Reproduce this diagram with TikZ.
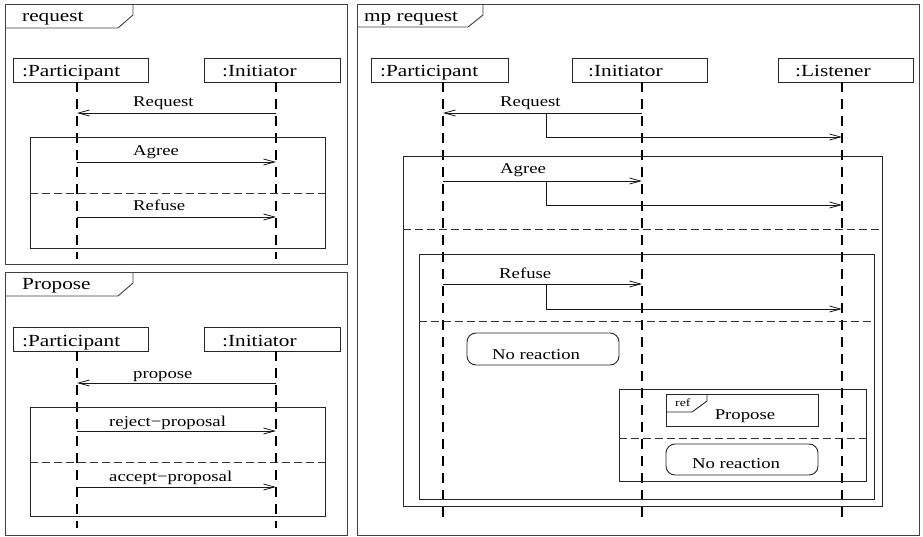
\documentclass[tikz,border=0pt]{standalone}
\usepackage{fontspec}
\setmainfont{Liberation Serif}[FakeStretch=1.25]
\usetikzlibrary{arrows.meta}

\tikzset{
  frameline/.style={draw=black!75, line width=0.9pt},
  headbox/.style={draw=black!85, line width=0.9pt},
  lifeline/.style={draw=black, line width=1.2pt, dash pattern=on 10pt off 7pt},
  altbox/.style={draw=black!85, line width=0.9pt},
  divider/.style={draw=black!80, line width=0.8pt, dash pattern=on 8pt off 4pt},
  msg/.style={draw=black!90, line width=0.8pt, -{Straight Barb[length=11pt,width=6pt]}},
  big/.style={inner sep=0pt, font=\fontsize{17}{17}\selectfont},
  lbl/.style={inner sep=0pt, font=\fontsize{15}{15}\selectfont},
  tiny/.style={inner sep=0pt, font=\fontsize{11}{11}\selectfont},
  noreact/.style={draw=black!85, line width=0.9pt, rounded corners=9pt},
}

\begin{document}
\begin{tikzpicture}[x=1pt, y=-1pt]
\useasboundingbox (0,0) rectangle (923,537);

% ---------------- frame: request ----------------
\draw[frameline] (5,4) rectangle (347,264);
\draw[frameline] (5,28) -- (118,28) -- (133,15) -- (133,4);
\node[big, anchor=base west] (t1) at (22,22) {request};

\draw[headbox] (13,58) rectangle (148,82);
\draw[headbox] (204,58) rectangle (340,82);
\node[big, anchor=base west] (pA) at (22,77) {:Participant};
\node[big, anchor=base west] (iA) at (222,77) {:Initiator};
\coordinate (pAtop) at (77,82);  \coordinate (pAend) at (77,259);
\coordinate (iAtop) at (276,82); \coordinate (iAend) at (276,259);
\draw[lifeline] (pAtop) -- (pAend);
\draw[lifeline] (iAtop) -- (iAend);

\coordinate (a1i) at (276,113); \coordinate (a1p) at (77,113);
\coordinate (a2p) at (77,162);  \coordinate (a2i) at (276,162);
\coordinate (a3p) at (77,217);  \coordinate (a3i) at (276,217);
\draw[msg] (a1i) -- (a1p);
\draw[msg] (a2p) -- (a2i);
\draw[msg] (a3p) -- (a3i);
\node[lbl, anchor=base west] (l1) at (133,107) {Request};
\node[lbl, anchor=base west] (l2) at (133,156) {Agree};
\node[lbl, anchor=base west] (l3) at (133,211) {Refuse};

\draw[altbox] (30,137) rectangle (325,248);
\coordinate (dAl) at (30,193); \coordinate (dAr) at (325,193);
\draw[divider] (dAl) -- (dAr);

% ---------------- frame: Propose ----------------
\draw[frameline] (5,272) rectangle (347,535);
\draw[frameline] (5,296) -- (118,296) -- (133,283) -- (133,272);
\node[big, anchor=base west] (t2) at (22,290) {Propose};

\draw[headbox] (13,327) rectangle (148,351);
\draw[headbox] (204,327) rectangle (340,351);
\node[big, anchor=base west] (pB) at (22,346) {:Participant};
\node[big, anchor=base west] (iB) at (222,346) {:Initiator};
\coordinate (pBtop) at (77,351);  \coordinate (pBend) at (77,528);
\coordinate (iBtop) at (276,351); \coordinate (iBend) at (276,528);
\draw[lifeline] (pBtop) -- (pBend);
\draw[lifeline] (iBtop) -- (iBend);

\coordinate (b1i) at (276,383); \coordinate (b1p) at (77,383);
\coordinate (b2p) at (77,431);  \coordinate (b2i) at (276,431);
\coordinate (b3p) at (77,487);  \coordinate (b3i) at (276,487);
\draw[msg] (b1i) -- (b1p);
\draw[msg] (b2p) -- (b2i);
\draw[msg] (b3p) -- (b3i);
\node[lbl, anchor=base west] (m1) at (133,378) {propose};
\node[lbl, anchor=base west] (m2) at (109,426) {reject−proposal};
\node[lbl, anchor=base west] (m3) at (109,481) {accept−proposal};

\draw[altbox] (30,407) rectangle (325,516);
\coordinate (dBl) at (30,462); \coordinate (dBr) at (325,462);
\draw[divider] (dBl) -- (dBr);

% ---------------- frame: mp request ----------------
\draw[frameline] (357,4) rectangle (919,535);
\draw[frameline] (357,27) -- (468,27) -- (483,15) -- (483,4);
\node[big, anchor=base west] (t3) at (364,22) {mp request};

\draw[headbox] (371,58) rectangle (508,82);
\draw[headbox] (572,58) rectangle (707,82);
\draw[headbox] (778,58) rectangle (913,82);
\node[big, anchor=base west] (pC) at (380,77) {:Participant};
\node[big, anchor=base west] (iC) at (588,77) {:Initiator};
\node[big, anchor=base west] (lC) at (795,77) {:Listener};
\coordinate (pCtop) at (443,82); \coordinate (pCend) at (443,524);
\coordinate (iCtop) at (642,82); \coordinate (iCend) at (642,524);
\coordinate (lCtop) at (842,82); \coordinate (lCend) at (842,524);
\draw[lifeline] (pCtop) -- (pCend);
\draw[lifeline] (iCtop) -- (iCend);
\draw[lifeline] (lCtop) -- (lCend);

% Request, forwarded to the listener
\coordinate (c1i) at (642,113); \coordinate (c1p) at (443,113);
\coordinate (c1b) at (546,113); \coordinate (c1k) at (546,137);
\coordinate (c1l) at (842,137);
\draw[msg] (c1i) -- (c1p);
\draw[msg] (c1b) -- (c1k) -- (c1l);
\node[lbl, anchor=base west] (n1) at (500,107) {Request};

% outer alternative
\draw[altbox] (403,156) rectangle (882,506);
\coordinate (dCl) at (403,229); \coordinate (dCr) at (882,229);
\draw[divider] (dCl) -- (dCr);

\coordinate (c2p) at (443,181); \coordinate (c2i) at (642,181);
\coordinate (c2b) at (546,181); \coordinate (c2k) at (546,205);
\coordinate (c2l) at (842,205);
\draw[msg] (c2p) -- (c2i);
\draw[msg] (c2b) -- (c2k) -- (c2l);
\node[lbl, anchor=base west] (n2) at (500,174) {Agree};

% inner alternative
\draw[altbox] (419,254) rectangle (874,499);
\coordinate (dDl) at (419,321); \coordinate (dDr) at (874,321);
\draw[divider] (dDl) -- (dDr);

\coordinate (c3p) at (443,284); \coordinate (c3i) at (642,284);
\coordinate (c3b) at (546,284); \coordinate (c3k) at (546,309);
\coordinate (c3l) at (842,309);
\draw[msg] (c3p) -- (c3i);
\draw[msg] (c3b) -- (c3k) -- (c3l);
\node[lbl, anchor=base west] (n3) at (499,278) {Refuse};

\draw[noreact] (467,333) rectangle (619,365);
\node[lbl, anchor=base] (nr1) at (536,359) {No reaction};

% nested alternative: ref Propose / No reaction
\draw[altbox] (619,389) rectangle (866,481);
\coordinate (dEl) at (619,438); \coordinate (dEr) at (866,438);
\draw[divider] (dEl) -- (dEr);

\draw[headbox] (666,394) rectangle (818,426);
\draw[headbox] (666,412) -- (692,412) -- (707,401) -- (707,394);
\node[tiny, anchor=base west] (rf) at (675,406) {ref};
\node[lbl, anchor=base] (rp) at (745,419) {Propose};

\draw[noreact] (666,444) rectangle (818,475);
\node[lbl, anchor=base] (nr2) at (736,468) {No reaction};
\end{tikzpicture}
\end{document}
